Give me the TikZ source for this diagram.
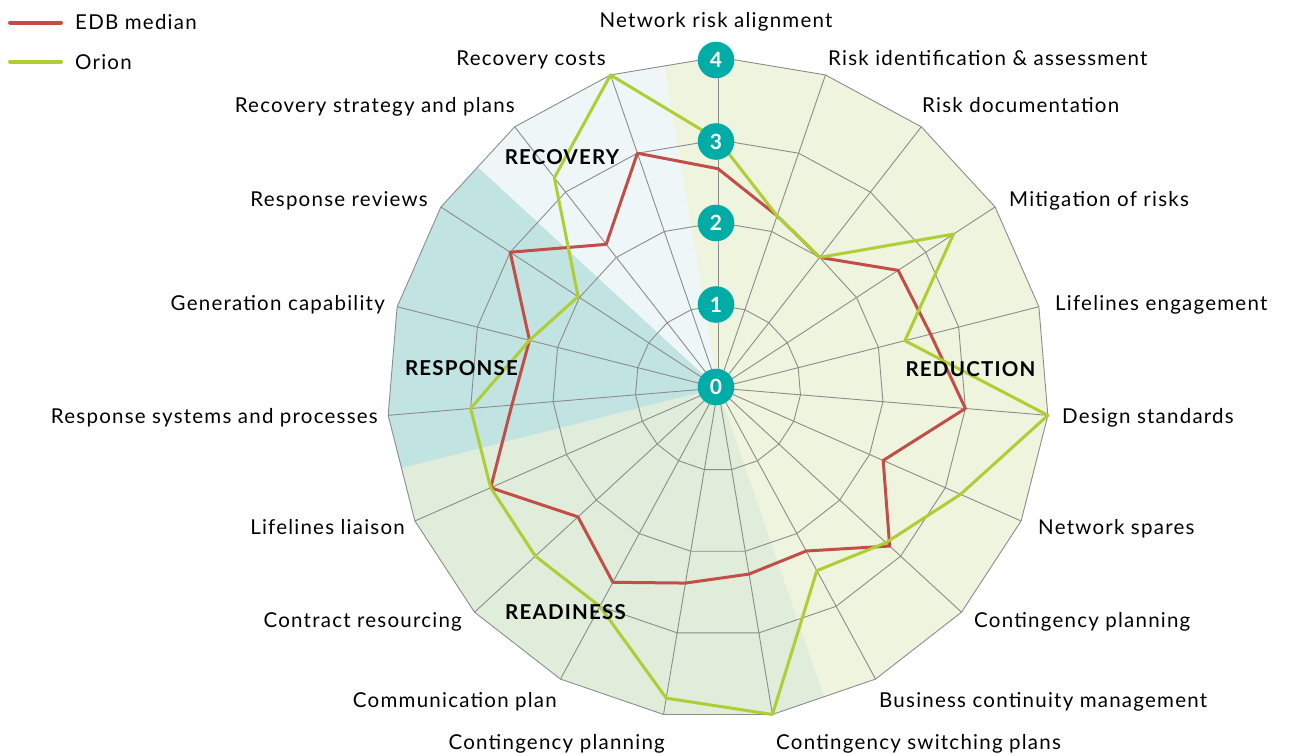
\documentclass[tikz,border=0pt]{standalone}
\usepackage{fontspec}
\setmainfont{Lato}[LetterSpace=6]
\definecolor{gridgray}{RGB}{140,140,140}
\definecolor{edbred}{RGB}{194,78,72}
\definecolor{oriongreen}{RGB}{174,207,52}
\definecolor{tealc}{RGB}{0,173,166}
\definecolor{reducfill}{RGB}{238,244,221}
\definecolor{readyfill}{RGB}{223,237,218}
\definecolor{respfill}{RGB}{193,227,225}
\definecolor{recovfill}{RGB}{239,246,247}
\begin{document}
\begin{tikzpicture}[x=1pt,y=-1pt,
  grid/.style={draw=gridgray, line width=0.9pt},
  edbline/.style={draw=edbred, line width=3pt, line join=round},
  orionline/.style={draw=oriongreen, line width=3pt, line join=round},
  lbl/.style={font=\fontsize{20.5}{24}\selectfont, text=black, inner sep=0pt},
  cat/.style={font=\fontsize{20.5}{24}\selectfont\bfseries, text=black, inner sep=0pt},
  numc/.style={circle, fill=tealc, minimum size=36.6pt, inner sep=0pt, text=white, font=\fontsize{21}{24}\selectfont\bfseries},
]
\useasboundingbox (0,0) rectangle (1292,754);
\begin{scope}[shift={(718,388)}]
  % sector fills
  \fill[reducfill] (0,0) -- ({-0.5*360/19-90}:326.5)
     \foreach \k in {0,...,8}{ -- ({\k*360/19-90}:331)} -- ({8.5*360/19-90}:326.5) -- cycle;
  \fill[readyfill] (0,0) -- ({8.5*360/19-90}:326.5)
     \foreach \k in {9,...,13}{ -- ({\k*360/19-90}:331)} -- ({13.5*360/19-90}:326.5) -- cycle;
  \fill[respfill] (0,0) -- ({13.5*360/19-90}:326.5)
     \foreach \k in {14,...,16}{ -- ({\k*360/19-90}:331)} -- ({16.5*360/19-90}:326.5) -- cycle;
  \fill[recovfill] (0,0) -- ({16.5*360/19-90}:326.5)
     \foreach \k in {17,18}{ -- ({\k*360/19-90}:331)} -- ({18.5*360/19-90}:326.5) -- cycle;
  % grid rings
  \foreach \L in {82.75,165.5,248.25,331}{
    \draw[grid] (-90:\L) \foreach \k in {1,...,18}{ -- ({\k*360/19-90}:\L)} -- cycle;
  }
  % spokes
  \coordinate (O) at (0,0);
  \foreach \k in {0,...,18}{
    \coordinate (v\k) at ({\k*360/19-90}:331);
    \draw[grid] (O) -- (v\k);
  }
  % data points
  \foreach \v [count=\i from 0] in {2.65,2.2,2.0,2.6,2.65,3.0,2.18,2.82,2.24,2.28,2.39,2.67,2.3,3.0,2.5,2.35,3.0,2.2,3.0}{
    \coordinate (e\i) at ({\i*360/19-90}:{\v*82.75});
  }
  \foreach \v [count=\i from 0] in {3.0,2.2,2.0,3.4,2.33,4.0,3.2,2.76,2.51,4.0,3.8,3.0,3.0,3.0,3.0,2.35,2.02,3.22,4.0}{
    \coordinate (g\i) at ({\i*360/19-90}:{\v*82.75});
  }
  \draw[edbline] (e0) \foreach \i in {1,...,18}{ -- (e\i)} -- cycle;
  \draw[orionline] (g0) \foreach \i in {1,...,18}{ -- (g\i)} -- cycle;
\end{scope}
% category labels
\node[cat] (cRecov) at (562,157) {RECOVERY};
\node[cat] (cResp) at (461.5,368) {RESPONSE};
\node[cat] (cReduc) at (970.5,369) {REDUCTION};
\node[cat] (cReady) at (565.5,612.5) {READINESS};
% level markers
\node[numc] (n0) at (716,387) {0};
\node[numc] (n1) at (716,304.5) {1};
\node[numc] (n2) at (716,223) {2};
\node[numc] (n3) at (716,141.5) {3};
\node[numc] (n4) at (716,60) {4};
% axis labels
\node[lbl, anchor=base] (l0) at (716,28) {Network risk alignment};
\node[lbl, anchor=base west] (l1) at (828,66) {Risk identification \& assessment};
\node[lbl, anchor=base west] (l2) at (922,113) {Risk documentation};
\node[lbl, anchor=base west] (l3) at (1009,206) {Mitigation of risks};
\node[lbl, anchor=base west] (l4) at (1055,310) {Lifelines engagement};
\node[lbl, anchor=base west] (l5) at (1062,423) {Design standards};
\node[lbl, anchor=base west] (l6) at (1038,534) {Network spares};
\node[lbl, anchor=base west] (l7) at (974,627) {Contingency planning};
\node[lbl, anchor=base west] (l8) at (879,707) {Business continuity management};
\node[lbl, anchor=base west] (l9) at (776,749) {Contingency switching plans};
\node[lbl, anchor=base east] (l10) at (665,749) {Contingency planning};
\node[lbl, anchor=base east] (l11) at (557,707) {Communication plan};
\node[lbl, anchor=base east] (l12) at (462,627) {Contract resourcing};
\node[lbl, anchor=base east] (l13) at (405,534) {Lifelines liaison};
\node[lbl, anchor=base east] (l14) at (378,423) {Response systems and processes};
\node[lbl, anchor=base east] (l15) at (385,310) {Generation capability};
\node[lbl, anchor=base east] (l16) at (428,206) {Response reviews};
\node[lbl, anchor=base east] (l17) at (515,113) {Recovery strategy and plans};
\node[lbl, anchor=base east] (l18) at (606,66) {Recovery costs};
% legend
\coordinate (le1a) at (10,22.7);
\coordinate (le1b) at (61,22.7);
\coordinate (le2a) at (10,61.7);
\coordinate (le2b) at (61,61.7);
\draw[draw=edbred, line width=4pt, line cap=round] (le1a) -- (le1b);
\draw[draw=oriongreen, line width=4pt, line cap=round] (le2a) -- (le2b);
\node[lbl, anchor=base west] (leg1) at (75,30) {EDB median};
\node[lbl, anchor=base west] (leg2) at (75,70) {Orion};
\end{tikzpicture}
\end{document}
